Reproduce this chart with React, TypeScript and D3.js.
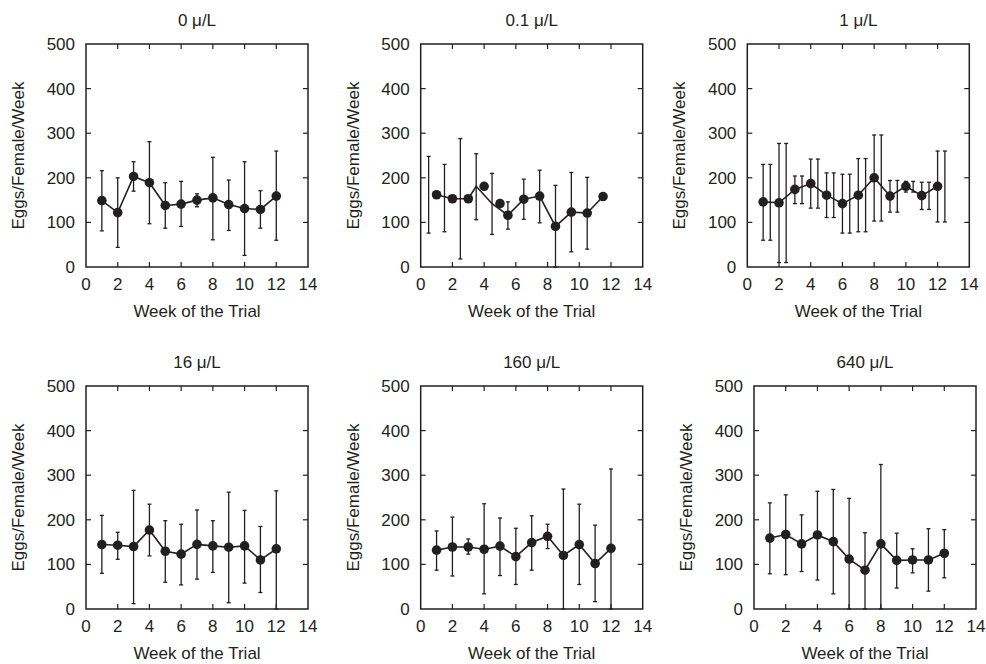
import React from "react";
import * as d3 from "d3";

// ---- data ----
const weeks = [1, 2, 3, 4, 5, 6, 7, 8, 9, 10, 11, 12];
const titles = ["0 μ/L", "0.1 μ/L", "1 μ/L", "16 μ/L", "160 μ/L", "640 μ/L"];
const xTicks = [0, 2, 4, 6, 8, 10, 12, 14];
const yTicks = [0, 100, 200, 300, 400, 500];

// 0 µ/L
const mean0 = [149, 122, 203, 189, 138, 141, 150, 155, 140, 131, 129, 159];
const hi0 = [216, 200, 236, 281, 189, 192, 164, 246, 195, 236, 171, 260];
const lo0 = [81, 44, 170, 97, 87, 91, 135, 61, 82, 26, 87, 60];

// 0.1 µ/L (markers, line and bars are offset from each other in the original)
const markWeeks1 = [1, 2, 3, 4, 5, 5.5, 6.5, 7.5, 8.5, 9.5, 10.5, 11.5];
const lineWeeks1 = [1, 2, 3, 3.5, 4.5, 5.5, 6.5, 7.5, 8.5, 9.5, 10.5, 11.5];
const mean1 = [162, 153, 153, 181, 142, 116, 152, 159, 91, 123, 121, 158];
const barWeeks1 = [0.5, 1.5, 2.5, 3.5, 4.5, 5.5, 6.5, 7.5, 8.5, 9.5, 10.5];
const hi1 = [248, 230, 288, 254, 210, 146, 197, 217, 183, 212, 201];
const lo1 = [76, 79, 18, 106, 73, 85, 107, 99, 0, 34, 40];

// 1 µ/L (bars drawn twice in the original)
const mean2 = [146, 144, 174, 187, 161, 142, 161, 200, 159, 181, 160, 181];
const hi2 = [230, 277, 204, 242, 211, 208, 243, 296, 194, 192, 190, 260];
const lo2 = [60, 10, 142, 132, 111, 76, 79, 103, 123, 168, 129, 101];
const barWeeks2b = [1.45, 2.45, 3.45, 4.45, 5.45, 6.46, 7.46, 8.45, 9.46, 10.46, 11.46, 12.46];

// 16 µ/L
const mean3 = [144.5, 143, 140, 177, 129.5, 123, 145, 141.5, 138.5, 141.5, 110, 135];
const hi3 = [210, 172, 266, 235, 198, 190, 222, 198, 262, 221, 185, 265];
const lo3 = [80, 111.5, 12, 119, 60, 54, 67, 82, 14, 58, 37, 0];

// 160 µ/L
const mean4 = [132, 139, 139, 134, 141, 117.5, 149, 163, 120, 144.5, 102, 136];
const hi4 = [175, 206, 157, 236, 204, 181, 209, 190, 269, 235, 188, 314];
const lo4 = [87, 74, 123, 34, 75, 55, 87, 135.5, 0, 55, 16.5, 0];

// 640 µ/L
const mean5 = [159, 167, 146, 166, 151, 112, 87, 146, 109, 110, 110, 125];
const hi5 = [238, 256, 211, 264, 268, 248, 171, 324, 170, 135, 180, 178];
const lo5 = [79, 77, 84, 65, 34, 0, 0, 0, 47, 81, 40, 70];

type Bar = { week: number; lo: number; hi: number };
type Panel = {
  title: string;
  marks: { week: number; mean: number }[];
  line: { week: number; mean: number }[];
  bars: Bar[];
};

const zipMarks = (w: number[], m: number[]) => w.map((d, i) => ({ week: d, mean: m[i] }));
const zipBars = (w: number[], lo: number[], hi: number[]) =>
  w.map((d, i) => ({ week: d, lo: lo[i], hi: hi[i] }));

const panels: Panel[] = [
  { title: titles[0], marks: zipMarks(weeks, mean0), line: zipMarks(weeks, mean0), bars: zipBars(weeks, lo0, hi0) },
  {
    title: titles[1],
    marks: zipMarks(markWeeks1, mean1),
    line: zipMarks(lineWeeks1, mean1),
    bars: zipBars(barWeeks1, lo1, hi1),
  },
  {
    title: titles[2],
    marks: zipMarks(weeks, mean2),
    line: zipMarks(weeks, mean2),
    bars: zipBars(weeks, lo2, hi2).concat(zipBars(barWeeks2b, lo2, hi2)),
  },
  { title: titles[3], marks: zipMarks(weeks, mean3), line: zipMarks(weeks, mean3), bars: zipBars(weeks, lo3, hi3) },
  { title: titles[4], marks: zipMarks(weeks, mean4), line: zipMarks(weeks, mean4), bars: zipBars(weeks, lo4, hi4) },
  { title: titles[5], marks: zipMarks(weeks, mean5), line: zipMarks(weeks, mean5), bars: zipBars(weeks, lo5, hi5) },
];

// plot-area origins for each panel
const lefts = [86, 420.7, 747.3, 86, 420.7, 754];
const tops = [44, 44, 44, 386, 386, 386];
const plotW = 222;
const plotH = 223;
const ink = "#231f20";
const font = "'Liberation Sans', Arial, Helvetica, sans-serif";

const ChartPanel = ({ p, left, top }: { p: Panel; left: number; top: number }) => {
  const x = d3.scaleLinear().domain([0, 14]).range([left, left + plotW]);
  const y = d3.scaleLinear().domain([0, 500]).range([top + plotH, top]);
  const line = d3
    .line<{ week: number; mean: number }>()
    .x((d) => x(d.week))
    .y((d) => y(d.mean));
  const tk = 5;
  const cap = 2;
  const bottom = top + plotH;

  return (
    <g>
      <text x={left + plotW / 2} y={top - 18} textAnchor="middle" fontSize={17}>
        {p.title}
      </text>
      <rect x={left} y={top} width={plotW} height={plotH} fill="none" stroke={ink} strokeWidth={1.5} />
      {xTicks.slice(1, -1).map((t) => (
        <g key={"x" + t}>
          <line x1={x(t)} x2={x(t)} y1={bottom} y2={bottom - tk} stroke={ink} strokeWidth={1.2} />
          <line x1={x(t)} x2={x(t)} y1={top} y2={top + tk} stroke={ink} strokeWidth={1.2} />
        </g>
      ))}
      {yTicks.slice(1, -1).map((t) => (
        <g key={"y" + t}>
          <line x1={left} x2={left + tk} y1={y(t)} y2={y(t)} stroke={ink} strokeWidth={1.2} />
          <line x1={left + plotW} x2={left + plotW - tk} y1={y(t)} y2={y(t)} stroke={ink} strokeWidth={1.2} />
        </g>
      ))}
      {xTicks.map((t) => (
        <text key={"xl" + t} x={x(t)} y={bottom + 23} textAnchor="middle" fontSize={17}>
          {t}
        </text>
      ))}
      {yTicks.map((t) => (
        <text key={"yl" + t} x={left - 11} y={y(t) + 6} textAnchor="end" fontSize={17}>
          {t}
        </text>
      ))}
      <text x={left + plotW / 2} y={bottom + 50} textAnchor="middle" fontSize={17}>
        Week of the Trial
      </text>
      <text
        transform={`translate(${left - 62},${top + plotH / 2}) rotate(-90)`}
        textAnchor="middle"
        fontSize={17}
      >
        Eggs/Female/Week
      </text>
      {p.bars.map((b, i) => (
        <g key={"b" + i} stroke={ink} strokeWidth={1.3}>
          <line x1={x(b.week)} x2={x(b.week)} y1={y(b.lo)} y2={y(b.hi)} />
          <line x1={x(b.week) - cap} x2={x(b.week) + cap} y1={y(b.lo)} y2={y(b.lo)} />
          <line x1={x(b.week) - cap} x2={x(b.week) + cap} y1={y(b.hi)} y2={y(b.hi)} />
        </g>
      ))}
      <path d={line(p.line) || ""} fill="none" stroke={ink} strokeWidth={1.6} />
      {p.marks.map((m, i) => (
        <circle key={"m" + i} cx={x(m.week)} cy={y(m.mean)} r={4.8} fill={ink} />
      ))}
    </g>
  );
};

export default function App() {
  return (
    <svg
      width={986}
      height={664}
      style={{ position: "absolute", left: 0, top: 0, background: "#fff" }}
      fontFamily={font}
      fill={ink}
    >
      <rect width={986} height={664} fill="#fff" />
      {panels.map((p, i) => (
        <ChartPanel key={i} p={p} left={lefts[i]} top={tops[i]} />
      ))}
    </svg>
  );
}
